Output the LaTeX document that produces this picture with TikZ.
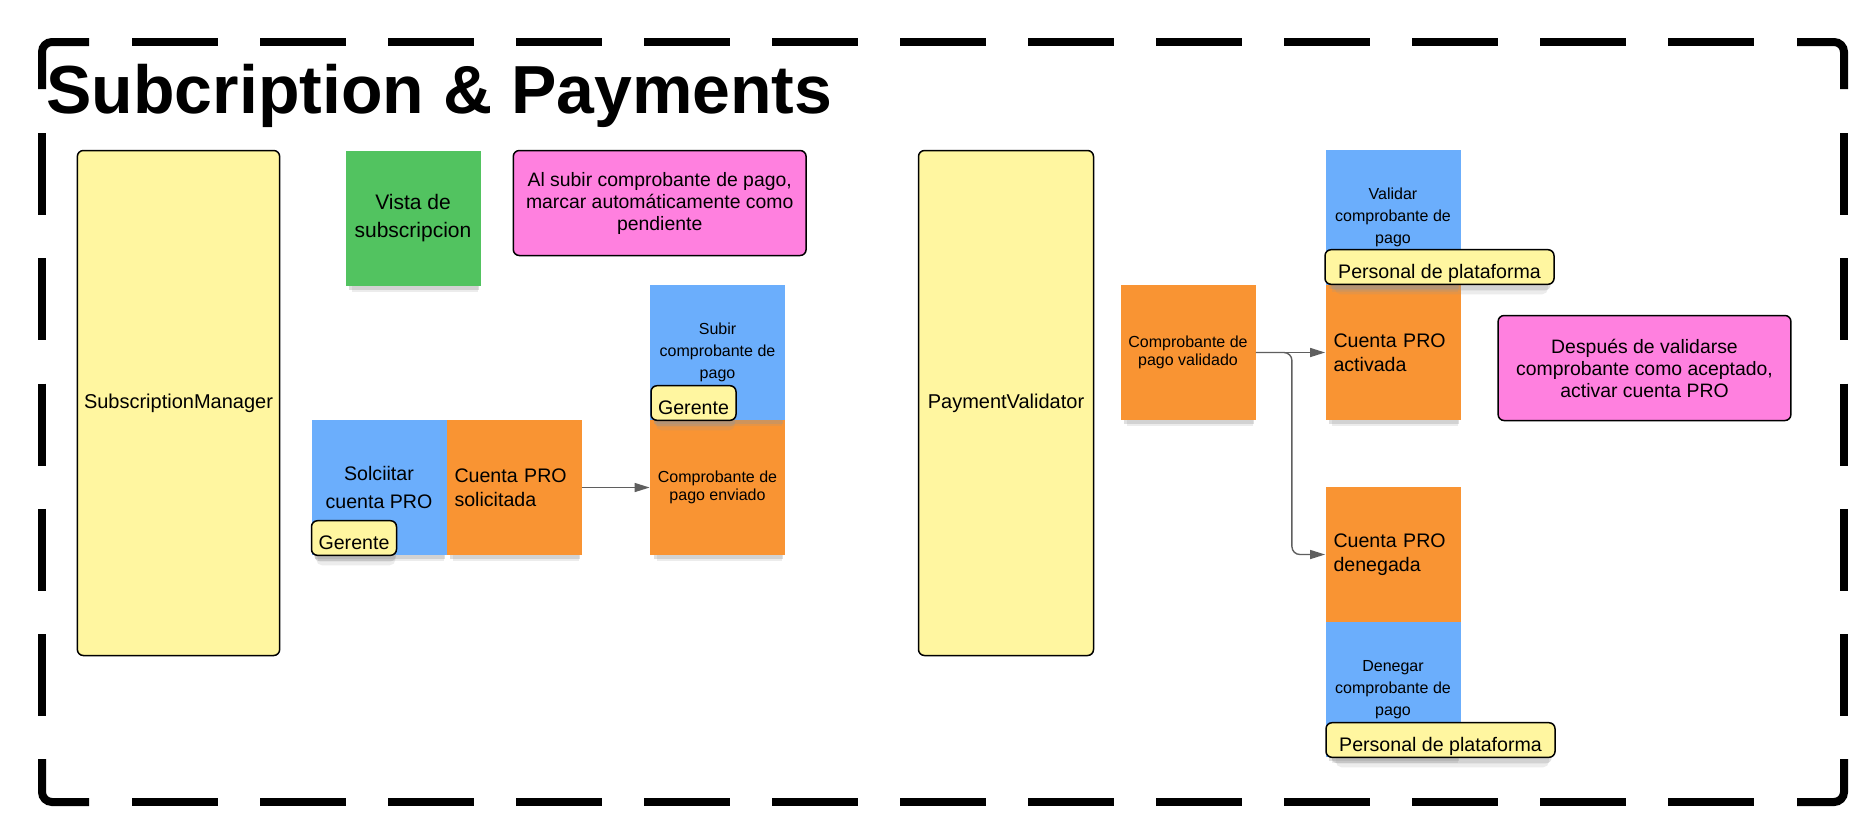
\documentclass[tikz,border=0pt]{standalone}
\usepackage{fontspec}
\setmainfont{Liberation Sans}
\usetikzlibrary{shadows,arrows.meta}

\definecolor{stYellow}{RGB}{255,246,160}
\definecolor{stGreen}{RGB}{82,195,96}
\definecolor{stPink}{RGB}{255,128,223}
\definecolor{stBlue}{RGB}{107,174,252}
\definecolor{stOrange}{RGB}{249,148,51}
\definecolor{lnGray}{RGB}{95,95,95}
\definecolor{shGray}{RGB}{150,150,150}

\tikzset{
  stshadow/.style={
    drop shadow={shadow xshift=1pt, shadow yshift=-6pt, shadow scale=0.93, opacity=0.18, fill=shGray},
    drop shadow={shadow xshift=0.6pt, shadow yshift=-3.5pt, shadow scale=0.96, opacity=0.3, fill=shGray}},
  sticky/.style={rectangle, minimum width=67.5pt, minimum height=67.5pt, inner sep=0pt, align=center, stshadow},
  bluenote/.style={sticky, fill=stBlue, font=\fontsize{8}{11}\selectfont},
  orangesmall/.style={sticky, fill=stOrange, font=\fontsize{8}{9.2}\selectfont},
  orangebig/.style={sticky, fill=stOrange, font=\fontsize{9.8}{11.8}\selectfont, inner xsep=4pt, text width=59.5pt, align=left},
  bigbox/.style={draw=black, line width=0.75pt, fill=stYellow, rounded corners=3pt, minimum width=101pt, minimum height=252.5pt, font=\fontsize{10}{12}\selectfont},
  pinknote/.style={draw=black, line width=0.75pt, fill=stPink, rounded corners=3pt, minimum width=146.4pt, minimum height=52.5pt, align=center, font=\fontsize{9.7}{11}\selectfont},
  tagbox/.style={draw=black, line width=0.75pt, fill=stYellow, rounded corners=3pt, minimum height=17.3pt, inner sep=0pt, text height=11.5pt, text depth=0pt, font=\fontsize{9.8}{11}\selectfont, stshadow},
  conn/.style={draw=lnGray, line width=0.7pt, -{Triangle[length=7.5pt,width=4.5pt]}},
  frameline/.style={line width=4pt, rounded corners=5pt}
}

\begin{document}
\begin{tikzpicture}[x=0.5pt,y=-0.5pt]
\useasboundingbox (0,0) rectangle (1872,821);
\fill[white] (0,0) rectangle (1872,821);

% dashed frame: corner pieces
\draw[frameline] (42,89) -- (42,42) -- (89,42);
\draw[frameline] (1797,42) -- (1844,42) -- (1844,89);
\draw[frameline] (1844,759) -- (1844,802) -- (1797,802);
\draw[frameline] (89,802) -- (42,802) -- (42,759);
% dashed frame: straight dashes
\foreach \k in {0,...,12} {
  \draw[frameline] (132+128*\k,42) -- ++(86,0);
  \draw[frameline] (132+128*\k,802) -- ++(86,0);
}
\foreach \k in {0,...,4} {
  \draw[frameline] (42,133+125.3*\k) -- ++(0,82);
  \draw[frameline] (1844,133+125.3*\k) -- ++(0,82);
}

% title
\node[anchor=base west, inner sep=0pt, font=\fontsize{34}{40}\selectfont\bfseries] (title) at (46,113) {Subcription \& Payments};

% big boxes
\node[bigbox] (sm) at (178.5,403) {SubscriptionManager};
\node[bigbox, minimum width=87.5pt] (pv) at (1006,403) {PaymentValidator};

% left group
\node[sticky, fill=stGreen, font=\fontsize{10.5}{14.2}\selectfont] (vista) at (413,218) {Vista de\\subscripcion};
\node[pinknote] (pink1) at (659.7,203) {Al subir comprobante de pago,\\marcar automáticamente como\\pendiente};

\node[orangesmall] (enviado) at (717.5,487.5) {Comprobante de\\pago enviado};
\node[bluenote] (subir) at (717.5,352.5) {Subir\\comprobante de\\pago};
\node[tagbox, minimum width=42.5pt] (ger1) at (693.5,403) {Gerente};

\node[sticky, fill=stBlue, font=\fontsize{9.8}{13.7}\selectfont] (solic) at (379,487.5) {Solciitar\\cuenta PRO};
\node[orangebig] (solicitada) at (514,487.5) {Cuenta PRO\\solicitada};
\node[tagbox, minimum width=42.5pt] (ger2) at (354,538) {Gerente};

% right group
\node[orangesmall] (validado) at (1188,352.5) {Comprobante de\\pago validado};
\node[orangebig] (activada) at (1393,352.5) {Cuenta PRO\\activada};
\node[bluenote] (validar) at (1393,217.7) {Validar\\comprobante de\\pago};
\node[tagbox, minimum width=114.5pt] (pers1) at (1439.5,267) {Personal de plataforma};

\node[pinknote] (pink2) at (1644.5,368) {Después de validarse\\comprobante como aceptado,\\activar cuenta PRO};

\node[orangebig] (denegada) at (1393,554.5) {Cuenta PRO\\denegada};
\node[bluenote] (denegar) at (1393,689.5) {Denegar\\comprobante de\\pago};
\node[tagbox, minimum width=114.5pt] (pers2) at (1440.5,740) {Personal de plataforma};

% connectors
\draw[conn] (solicitada.east) -- (enviado.west);
\draw[conn] (validado.east) -- (activada.west);
\draw[conn, rounded corners=4pt] (validado.east) -- ++(36,0) |- (denegada.west);
\end{tikzpicture}
\end{document}
